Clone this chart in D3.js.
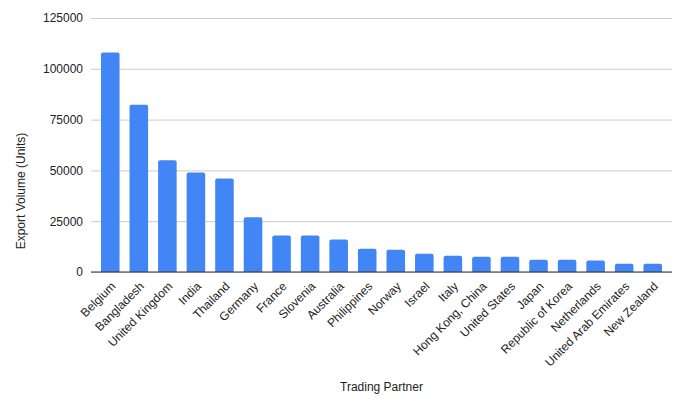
<!DOCTYPE html>
<html>
<head>
<meta charset="utf-8">
<script src="https://cdn.jsdelivr.net/npm/d3@7"></script>
<style>
  body { margin: 0; background: #fff; }
  text { font-family: Arial, "Liberation Sans", sans-serif; fill: #222; }
</style>
</head>
<body>
<script>
// data
const partners = ["Belgium", "Bangladesh", "United Kingdom", "India", "Thailand", "Germany", "France",
    "Slovenia", "Australia", "Philippines", "Norway", "Israel", "Italy", "Hong Kong, China",
    "United States", "Japan", "Republic of Korea", "Netherlands", "United Arab Emirates", "New Zealand"];
const volumes = [108000, 82300, 55000, 49000, 46000, 27000, 18000, 18000, 16000, 11500, 11000,
    9000, 8000, 7500, 7500, 6000, 6000, 5600, 4100, 4100];
const yTicks = [0, 25000, 50000, 75000, 100000, 125000];

const W = 687, H = 408;
const plotLeft = 91, plotRight = 672, plotTop = 18, plotBottom = 272;

const svg = d3.select("body")
    .append("svg")
    .attr("width", W)
    .attr("height", H);

const x = d3.scaleBand()
    .domain(partners)
    .range([plotLeft, plotRight])
    .paddingInner(0.35)
    .paddingOuter(0.35);

const y = d3.scaleLinear()
    .domain([0, 125000])
    .range([plotBottom, plotTop]);

// gridlines + y labels
const yAxis = svg.append("g")
    .attr("transform", `translate(${plotLeft},0)`)
    .call(d3.axisLeft(y).tickValues(yTicks).tickFormat(d3.format("d"))
        .tickSize(-(plotRight - plotLeft)).tickPadding(8));
yAxis.select(".domain").remove();
yAxis.selectAll(".tick line").attr("stroke", "#cccccc");
yAxis.selectAll(".tick text")
    .attr("font-size", 12)
    .attr("fill", "#222");

// bars
svg.selectAll(".bar")
    .data(partners)
    .enter()
    .append("path")
    .attr("class", "bar")
    .attr("fill", "#4285f4")
    .attr("d", (d, i) => {
        const x0 = x(d), w = x.bandwidth(), y0 = y(volumes[i]), r = 2;
        return `M${x0},${plotBottom}V${y0 + r}Q${x0},${y0} ${x0 + r},${y0}H${x0 + w - r}Q${x0 + w},${y0} ${x0 + w},${y0 + r}V${plotBottom}Z`;
    });

// baseline
svg.append("line")
    .attr("x1", plotLeft).attr("x2", plotRight)
    .attr("y1", y(0)).attr("y2", y(0))
    .attr("stroke", "#333")
    .attr("stroke-width", 1.2);

// x labels, rotated
const xAxis = svg.append("g")
    .attr("transform", `translate(0,${plotBottom})`)
    .call(d3.axisBottom(x).tickSize(0).tickPadding(0));
xAxis.select(".domain").remove();
xAxis.selectAll(".tick text")
    .attr("font-size", 12)
    .attr("fill", "#222")
    .attr("text-anchor", "end")
    .attr("dy", null)
    .attr("y", 0)
    .attr("transform", "translate(6,15) rotate(-45)");

// axis titles
svg.append("text")
    .attr("x", (plotLeft + plotRight) / 2)
    .attr("y", 391)
    .attr("text-anchor", "middle")
    .attr("font-size", 12)
    .text("Trading Partner");

svg.append("text")
    .attr("transform", "translate(25,191) rotate(-90)")
    .attr("text-anchor", "middle")
    .attr("font-size", 12)
    .text("Export Volume (Units)");
</script>
</body>
</html>
